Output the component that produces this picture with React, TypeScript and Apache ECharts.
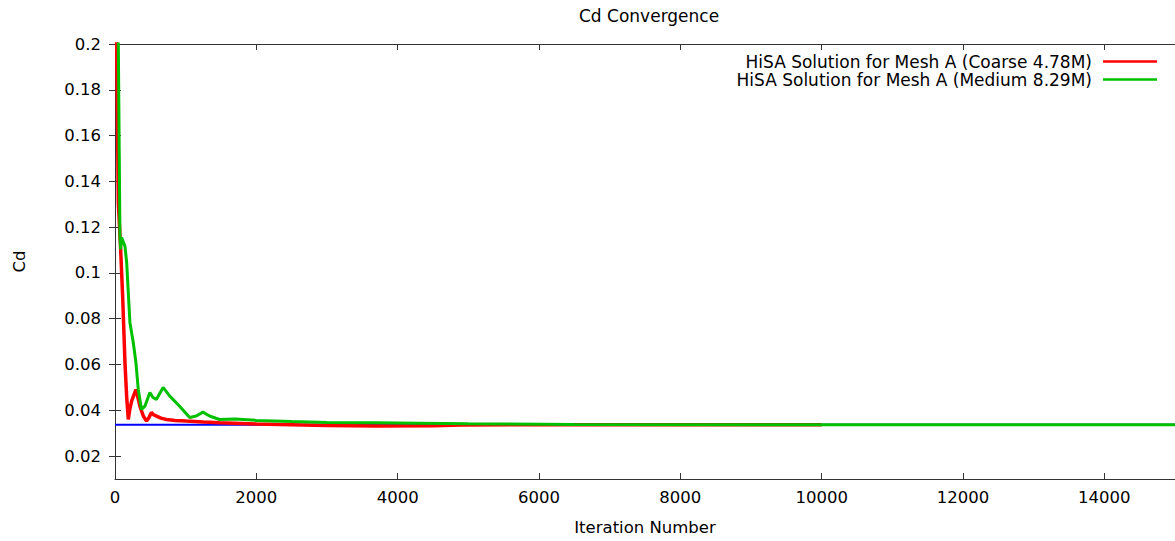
import React, { useEffect, useRef } from "react";
import * as echarts from "echarts";

// ---- data ----
const coarseIter = [0, 24, 47, 80, 108, 141, 165, 188, 210, 235, 265, 296, 325, 352, 400, 446, 480, 516, 550, 587, 650, 728, 850, 1010, 1250, 1479, 2000, 2500, 3000, 3700, 4500, 4900, 6000, 8000, 10000];
const coarseCd = [0.45, 0.2, 0.1307, 0.1103, 0.0899, 0.0609, 0.046, 0.036, 0.0405, 0.044, 0.0465, 0.0491, 0.0455, 0.0418, 0.0375, 0.0353, 0.0368, 0.039, 0.038, 0.0375, 0.0366, 0.036, 0.0356, 0.0353, 0.0349, 0.0346, 0.034, 0.0337, 0.0334, 0.0332, 0.0333, 0.0336, 0.0337, 0.0337, 0.0337];

const mediumIter = [0, 47, 70, 80, 94, 141, 165, 211, 258, 296, 329, 376, 423, 493, 540, 587, 681, 775, 915, 1056, 1150, 1244, 1338, 1479, 1700, 2000, 2500, 3000, 3700, 4300, 5000, 6500, 10000, 15000];
const mediumCd = [0.42, 0.2, 0.1161, 0.1103, 0.1155, 0.1117, 0.1046, 0.0784, 0.0697, 0.0609, 0.0491, 0.0404, 0.0418, 0.0478, 0.0455, 0.0448, 0.05, 0.0462, 0.0418, 0.0369, 0.0375, 0.0392, 0.0375, 0.036, 0.0362, 0.0356, 0.0351, 0.0347, 0.0346, 0.0344, 0.0341, 0.0338, 0.0337, 0.0337];

const refIter = [0, 15000];
const refCd = [0.0337, 0.0337];

const xTicks = [0, 2000, 4000, 6000, 8000, 10000, 12000, 14000];
const yTicks = [0.02, 0.04, 0.06, 0.08, 0.1, 0.12, 0.14, 0.16, 0.18, 0.2];

const seriesNames = [
  "HiSA Solution for Mesh A (Coarse 4.78M)",
  "HiSA Solution for Mesh A (Medium 8.29M)",
];

const zip = (xs: number[], ys: number[]) => xs.map((x, i) => [x, ys[i]]);

const FONT = "DejaVu Sans";
const FS = 16.5;
const AXIS_COLOR = "#333";

export default function App() {
  const ref = useRef<HTMLDivElement>(null);

  useEffect(() => {
    if (!ref.current) return;
    const chart = echarts.init(ref.current, undefined, { renderer: "svg" });

    const commonLine = { show: true, lineStyle: { color: AXIS_COLOR, width: 1 } };
    const commonTick = { show: true, inside: true, length: 6, lineStyle: { color: AXIS_COLOR, width: 1 } };
    const labelStyle = { color: "#000", fontFamily: FONT, fontSize: FS };

    chart.setOption({
      animation: false,
      backgroundColor: "#fff",
      title: {
        text: "Cd Convergence",
        left: 574,
        top: 2,
        textStyle: { fontFamily: FONT, fontSize: 17, fontWeight: "normal", color: "#000" },
      },
      legend: {
        data: seriesNames,
        orient: "vertical",
        align: "right",
        right: 13,
        top: 48,
        itemWidth: 54,
        itemHeight: 2.5,
        itemGap: 1,
        icon: "rect",
        textStyle: { ...labelStyle, fontSize: 17, padding: [0, 6, 0, 0] },
      },
      grid: { left: 115, top: 44, right: -5, bottom: 62, containLabel: false },
      xAxis: [
        {
          type: "value",
          position: "bottom",
          min: 0,
          max: 15000,
          interval: 2000,
          axisLine: commonLine,
          axisTick: { ...commonTick, customValues: xTicks },
          axisLabel: { ...labelStyle, margin: 10, customValues: xTicks, formatter: (v: number) => String(v) },
          splitLine: { show: false },
          name: "Iteration Number",
          nameLocation: "middle",
          nameGap: 40,
          nameTextStyle: labelStyle,
        },
        {
          type: "value",
          position: "top",
          min: 0,
          max: 15000,
          interval: 2000,
          axisLine: commonLine,
          axisTick: { ...commonTick, customValues: xTicks },
          axisLabel: { show: false },
          splitLine: { show: false },
        },
      ],
      yAxis: [
        {
          type: "value",
          position: "left",
          min: 0.01,
          max: 0.2,
          axisLine: commonLine,
          axisTick: { ...commonTick, customValues: yTicks },
          axisLabel: { ...labelStyle, margin: 14, customValues: yTicks, formatter: (v: number) => String(v) },
          splitLine: { show: false },
          name: "Cd",
          nameLocation: "middle",
          nameGap: 87,
          nameRotate: 90,
          nameTextStyle: labelStyle,
        },
        {
          type: "value",
          position: "right",
          min: 0.01,
          max: 0.2,
          axisLine: commonLine,
          axisTick: { ...commonTick, customValues: yTicks },
          axisLabel: { show: false },
          splitLine: { show: false },
        },
      ],
      series: [
        {
          name: "Reference",
          type: "line",
          data: zip(refIter, refCd),
          symbol: "none",
          lineStyle: { color: "#0000ff", width: 2 },
          itemStyle: { color: "#0000ff" },
          clip: true,
        },
        {
          name: seriesNames[0],
          type: "line",
          data: zip(coarseIter, coarseCd),
          symbol: "none",
          lineStyle: { color: "#ff0000", width: 3.5 },
          itemStyle: { color: "#ff0000" },
          clip: true,
        },
        {
          name: seriesNames[1],
          type: "line",
          data: zip(mediumIter, mediumCd),
          symbol: "none",
          lineStyle: { color: "#00c000", width: 3 },
          itemStyle: { color: "#00c000" },
          clip: true,
        },
      ],
    });

    return () => chart.dispose();
  }, []);

  return (
    <div
      ref={ref}
      style={{ position: "fixed", left: 0, top: 0, width: 1175, height: 541 }}
    />
  );
}
